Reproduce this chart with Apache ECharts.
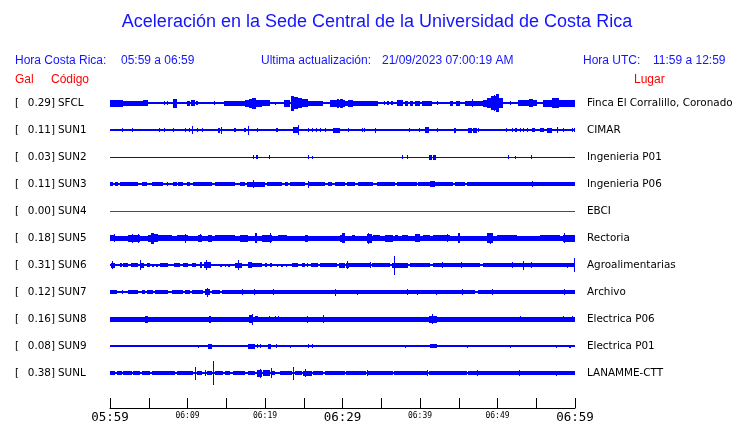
<!DOCTYPE html>
<html><head><meta charset="utf-8">
<script src="https://cdn.jsdelivr.net/npm/echarts@6/dist/echarts.min.js"></script>
<style>html,body{margin:0;padding:0;background:#fff}#c{width:740px;height:423px}</style>
</head><body><div id="c"></div>
<script>
// ---- data ----
const codes = ['SFCL','SUN1','SUN2','SUN3','SUN4','SUN5','SUN6','SUN7','SUN8','SUN9','SUNL'];
const gal = [0.29,0.11,0.03,0.11,0.00,0.18,0.31,0.12,0.16,0.08,0.38];
const places = ['Finca El Corralillo, Coronado','CIMAR','Ingenieria P01','Ingenieria P06','EBCI','Rectoria','Agroalimentarias','Archivo','Electrica P06','Electrica P01','LANAMME-CTT'];
const tickLabels = ['05:59','','06:09','','06:19','','06:29','','06:39','','06:49','','06:59'];
const tickKind   = ['big','','small','','small','','big','','small','','small','','big'];
// trace half-thickness (baseline) for each station, trace units
const baseHalf = [1,1,0.5,0.7,0.5,2.5,0.8,0.8,2.5,0.8,1];
// bursts: [start minute, end minute, half amplitude]
const sfcl = [[0,1.7,3.5],[1.7,4.95,2.5],[4.3,4.95,3],[7.0,7.0,2],[7.4,7.4,2],[8.1,8.7,4.5],[9.9,10.3,2.5],[10.45,10.95,3],[11.05,11.3,2],[13.46,13.46,2],[14.75,17.4,2.5],[17.4,17.9,3.5],[17.9,18.3,4.5],[18.3,18.9,5.5],[18.9,19.6,3.5],[19.6,20.6,3],[21.3,21.3,1.5],[22.45,23.2,3.5],[23.4,23.7,7.5],[23.7,24.2,6],[24.2,24.8,5],[24.8,25.6,4],[25.6,27.5,2.5],[28.4,30.3,3.5],[29.3,29.6,4.5],[29.68,30.1,4.5],[30.1,34.6,2.5],[30.75,31.4,3.5],[35.3,35.5,2],[35.8,36.0,2],[36.3,36.5,2],[37.0,37.8,3],[38.1,38.5,2.5],[38.7,39.1,2.5],[39.3,40.0,2.5],[40.2,41.5,2.5],[42.15,42.15,2],[43.9,44.3,2.5],[44.6,45.2,2.5],[45.8,48.1,2.5],[46.67,46.67,4],[48.1,48.6,3.5],[48.6,49.2,5],[49.2,49.8,7],[49.6,49.6,8],[49.8,50.2,9],[50.2,50.7,5],[51.6,51.6,2],[52.7,55.05,3],[54.0,54.6,4],[55.9,60,3.5],[57.0,57.9,5]];
const sun1 = [[1.59,1.59,2],[2.88,2.88,2],[6.37,6.37,2],[7.0,7.0,2],[8.17,8.17,2],[9.72,9.72,2],[10.24,10.24,2],[10.54,10.54,4],[11.18,11.18,2],[11.83,11.83,2],[13.89,14.19,2.5],[14.32,14.32,3.5],[16.0,16.25,2],[17.35,17.55,2],[17.85,17.85,4.5],[18.92,18.92,2],[21.4,21.7,2],[23.66,24.3,3],[24.3,24.3,5],[25.5,25.5,2],[26.02,26.02,2],[26.62,26.62,2],[27.1,27.1,2],[27.74,27.74,2],[28.82,29.68,2.5],[30.76,30.76,2],[32.48,32.48,2],[32.78,32.78,2],[34.2,34.2,2.5],[38.63,38.63,2],[39.92,39.92,2],[40.65,41.21,3],[42.15,42.15,2],[44.4,44.65,2.5],[46.24,46.67,2.5],[46.9,47.3,2.5],[47.53,47.53,2],[51.1,51.1,2],[51.83,51.83,2],[52.26,52.48,2],[52.9,52.9,2],[53.25,53.25,2],[53.77,53.98,2],[54.41,54.84,2],[55.49,56.0,2],[56.35,57.0,2.5],[57.72,57.72,3],[58.5,58.5,2],[59.57,59.57,2],[59.87,59.87,2]];
const sun2 = [[18.4,18.6,2],[18.85,19.05,2],[20.56,20.56,2],[25.59,25.59,2],[26.1,26.1,1.5],[37.72,37.72,2],[38.28,38.28,2],[41.2,41.5,2.5],[41.7,42.0,2.5],[51.4,51.4,2],[52.2,52.2,1.5],[54.35,54.5,2]];
const sun3 = [[0,0.43,2],[0.65,1.08,2],[1.29,3.66,2],[4.09,4.73,2],[5.38,6.88,2],[7.31,7.53,2],[8.17,8.6,2],[8.82,9.46,2],[9.89,10.32,2],[10.75,13.12,2],[13.55,16.13,2],[16.77,17.42,2],[17.63,20.0,2.5],[18.5,18.5,4],[20.22,22.15,2],[22.58,23.01,2],[23.23,25.16,2],[25.59,27.74,2],[25.59,25.59,3.5],[28.17,28.6,2],[29.03,30.32,2],[29.68,30.11,2],[30.54,31.62,2],[32.05,33.98,2],[34.41,36.78,2],[36.99,39.57,2],[39.79,44.3,2],[41.3,41.9,3],[44.52,45.81,2],[46.02,60,2],[54.5,54.5,3]];
const sun4 = [];
const sun5 = [[0,0.65,3],[0.52,0.52,4],[2.37,3.87,3.5],[2.8,2.8,4.5],[3.66,3.66,4.5],[4.95,5.3,3.5],[5.3,5.7,5.5],[5.7,6.24,4],[6.24,7.96,3],[8.6,10.1,3],[9.68,9.68,4.5],[11.4,11.83,3.5],[11.55,11.55,4],[12.69,13.12,3.5],[13.55,16.13,3],[16.77,17.85,3.5],[18.71,18.92,5],[19.57,20.86,3.5],[20.65,20.65,5],[21.72,22.8,3],[23.23,24.73,2.5],[25.16,25.59,3.5],[26.02,27.31,2.5],[27.74,29.46,2.5],[29.89,30.32,5],[29.68,30.33,3.5],[31.19,31.62,3],[32.26,32.91,2.5],[33.12,33.77,4.5],[33.34,33.34,5.5],[33.98,34.84,3],[35.49,36.56,3.5],[36.78,37.21,3],[37.64,38.5,3],[39.36,40.0,4],[40.43,41.29,3],[41.72,43.87,3],[43.44,43.44,4],[44.95,45.16,5],[46.02,48.6,2.5],[48.6,49.46,5],[49.03,49.03,5.5],[49.9,52.48,3],[52.91,55.49,2.5],[55.49,58.07,3],[58.5,60,3.5],[58.63,58.63,5]];
const sun6 = [[0.13,0.65,2.5],[0.3,0.3,4],[1.29,1.5,2],[1.72,2.37,2],[2.71,3.66,2],[3.87,3.87,5],[3.87,4.43,2.5],[4.73,5.2,2],[5.4,5.7,1.5],[5.9,6.2,1.5],[6.4,7.5,2],[8.26,9.03,2],[9.46,10.11,2],[10.54,11.05,2],[11.61,11.91,3],[12.17,13.03,3],[12.39,12.39,5],[14.2,14.5,1.5],[14.8,15.0,1.5],[15.2,15.5,1.5],[16.13,16.99,2.5],[16.47,16.47,5],[17.85,18.28,3],[18.28,19.57,2],[20.0,20.2,2],[20.6,20.85,2],[21.5,21.7,1.5],[22.1,22.3,1.5],[22.7,22.9,1.5],[23.44,24.3,2],[24.8,25.1,2],[25.4,25.6,2],[25.9,26.9,2],[27.1,29.3,2],[29.6,30.3,2.5],[30.4,30.8,2.5],[30.63,30.63,4],[30.9,33.5,2],[33.55,33.55,3],[33.8,36.1,2],[36.35,36.78,2.5],[36.7,36.7,9.5],[36.78,38.5,2.5],[38.7,41.3,2],[41.7,47.7,2],[42.9,42.9,3],[45.25,45.25,3],[48.17,60,2],[51.83,51.83,3],[53.34,53.34,4.5],[54.33,54.33,3],[58.93,58.93,2.5],[59.92,59.92,7]];
const sun7 = [[0,0.86,2],[1.5,1.72,2],[2.37,3.66,2],[4.09,4.52,2],[4.73,5.59,2],[5.81,7.53,2],[7.96,9.46,2],[9.68,10.32,2],[10.54,12.04,2],[12.26,12.9,3],[12.56,12.56,4.5],[13.12,14.19,2],[14.41,16.99,2],[17.07,17.07,3],[16.99,47.1,2],[18.62,18.62,3],[21.07,21.07,3],[29.03,29.03,3.5],[31.92,31.92,2.5],[38.28,38.28,3],[39.57,39.57,2.5],[42.0,42.0,2.5],[45.38,45.38,3],[47.53,60,2],[49.25,49.25,3],[58.63,58.63,3]];
const sun8 = [[4.52,4.95,3.5],[7.0,7.0,2.5],[12.77,13.03,3.5],[17.93,18.49,4],[18.28,18.28,5.5],[18.71,19.14,3],[20.56,20.56,3],[21.3,21.35,3],[21.65,21.72,3],[25.46,25.46,3.5],[26.67,26.67,2.5],[27.1,27.1,2.5],[27.53,27.53,4],[27.96,27.96,2.5],[36.0,36.0,2.5],[41.2,42.2,3.5],[41.6,41.6,5],[47.5,47.5,2.5],[52.9,52.9,3],[56.0,56.0,2.5],[58.4,58.4,3],[59.6,59.6,3]];
const sun9 = [[11.4,11.4,1.5],[12.7,13.12,2.5],[17.76,18.71,2.5],[19.0,19.0,2],[19.35,19.35,2],[20.43,20.78,2.5],[21.37,21.37,2],[23.23,23.23,1.5],[25.59,25.59,2],[26.1,26.1,2],[38.1,38.1,1.5],[41.3,42.2,2],[46.0,46.0,1.5],[51.6,51.6,1.5],[57.5,57.5,1.5],[59.2,59.5,1.5]];
const sunl = [[0,0.65,2],[0.86,1.5,2],[1.72,2.8,2],[3.01,3.87,2],[4.17,5.16,2],[5.38,8.39,2],[8.6,10.75,2],[11.01,11.01,6.5],[11.18,11.83,2],[12.26,12.26,3],[12.47,13.12,2],[13.33,13.33,12],[13.55,14.62,2],[14.84,15.48,2],[15.91,17.42,2],[17.85,18.71,2],[18.92,19.57,3.5],[19.35,19.35,4.5],[19.78,20.65,3],[20.73,20.73,5],[20.86,21.29,2],[21.94,23.44,2],[23.66,23.66,6.5],[23.87,24.73,2],[24.95,26.02,2.5],[25.16,25.16,4],[26.24,27.53,2],[27.74,30.32,2],[30.4,33.0,2],[33.2,36.5,2],[36.7,41.0,2],[41.2,46.0,2],[46.2,60,2],[33.1,33.1,3],[40.9,40.9,3],[47.3,47.3,3],[52.8,52.8,3],[57.6,57.6,2.5]];
const bursts = [sfcl,sun1,sun2,sun3,sun4,sun5,sun6,sun7,sun8,sun9,sunl];
const traceColors = ['#0000ff','#0000ff','#0000ff','#0000ff','#ff0000','#0000ff','#0000ff','#0000ff','#0000ff','#0000ff','#0000ff'];

// ---- chart ----
const ROW = 27; // trace units between rows
const chart = echarts.init(document.getElementById('c'), null, {renderer:'canvas'});
function renderItem(params, api) {
  const t0 = api.value(0), t1 = api.value(1), a = api.value(2), r = api.value(3);
  const c = r * ROW;
  const p0 = api.coord([t0, c - a]);
  const p1 = api.coord([t1, c + a]);
  const x0 = Math.round(Math.min(p0[0], p1[0]));
  const x1 = Math.max(x0 + 1, Math.round(Math.max(p0[0], p1[0])));
  const y0 = Math.round(Math.min(p0[1], p1[1]));
  const y1 = Math.max(y0 + 1, Math.round(Math.max(p0[1], p1[1])));
  return {type:'rect', shape:{x:x0, y:y0, width:x1-x0, height:y1-y0}, style:{fill: api.visual('color')}};
}
const series = codes.map((code, i) => ({
  type:'custom', name:code, renderItem, xAxisIndex:0, yAxisIndex:0,
  encode:{x:[0,1], y:2},
  itemStyle:{color: traceColors[i]},
  silent:true,
  data:[[0,60,baseHalf[i],i]].concat(bursts[i].map(b => [b[0], b[1], b[2], i]))
}));
const rowLabel = v => { const k = Math.round(v / ROW); return (k >= 0 && k < codes.length && Math.abs(v - k*ROW) < 0.01) ? k : -1; };
const lblFont = {fontFamily:'DejaVu Sans', fontSize:10.4, color:'#000'};
function rowAxis(position, margin, align, fmt) {
  return {type:'value', inverse:true, min:-ROW, max:ROW*11, interval:ROW, position,
    axisLine:{show:false}, axisTick:{show:false}, splitLine:{show:false},
    axisLabel:Object.assign({margin, align, showMinLabel:true, showMaxLabel:true,
      formatter: v => { const k = rowLabel(v); return k < 0 ? '' : fmt(k); }}, lblFont)};
}
const blue = '#1414ff';
const hfont = '12px "Liberation Sans", Arial, sans-serif';
const txt = (text, x, y, fill, font, align) => ({type:'text', x, y, silent:true,
  style:{text, fill, font, align: align || 'left', verticalAlign:'middle'}});
chart.setOption({
  animation:false,
  backgroundColor:'#fff',
  grid:{left:110, right:165, top:76, height:324, containLabel:false, outerBoundsMode:'none'},
  xAxis:{type:'value', min:0, max:60, interval:5, offset:8,
    axisLine:{show:true, onZero:false, lineStyle:{color:'#000', width:1}},
    axisTick:{show:true, inside:true, length:10, lineStyle:{color:'#000'}},
    splitLine:{show:false},
    axisLabel:{show:true, margin:3, showMinLabel:true, showMaxLabel:true,
      formatter: v => { const k = Math.round(v/5); return tickLabels[k] ? '{' + tickKind[k] + '|' + tickLabels[k] + '}' : ''; },
      rich:{
        big:{fontFamily:'DejaVu Sans Mono', fontSize:12.5, color:'#000', lineHeight:14},
        small:{fontFamily:'DejaVu Sans Mono', fontSize:8, color:'#000', lineHeight:9}
      }}
  },
  yAxis:[
    rowAxis('left', 52, 'left', k => codes[k]),
    rowAxis('left', 55, 'right', k => gal[k].toFixed(2) + ']'),
    rowAxis('left', 95, 'left', k => '['),
    rowAxis('right', 12, 'left', k => places[k])
  ],
  graphic:[
    txt('Aceleración en la Sede Central de la Universidad de Costa Rica', 377, 22, blue, '18px "Liberation Sans", Arial, sans-serif', 'center'),
    txt('Hora Costa Rica:', 15, 61, blue, hfont),
    txt('05:59 a 06:59', 121, 61, blue, hfont),
    txt('Ultima actualización:', 261, 61, blue, hfont),
    txt('21/09/2023 07:00:19 AM', 382, 61, blue, hfont),
    txt('Hora UTC:', 583, 61, blue, hfont),
    txt('11:59 a 12:59', 653, 61, blue, hfont),
    txt('Gal', 15, 80, '#ff0000', hfont),
    txt('Código', 51, 80, '#ff0000', hfont),
    txt('Lugar', 634, 80, '#ff0000', hfont)
  ],
  series
});
</script></body></html>
